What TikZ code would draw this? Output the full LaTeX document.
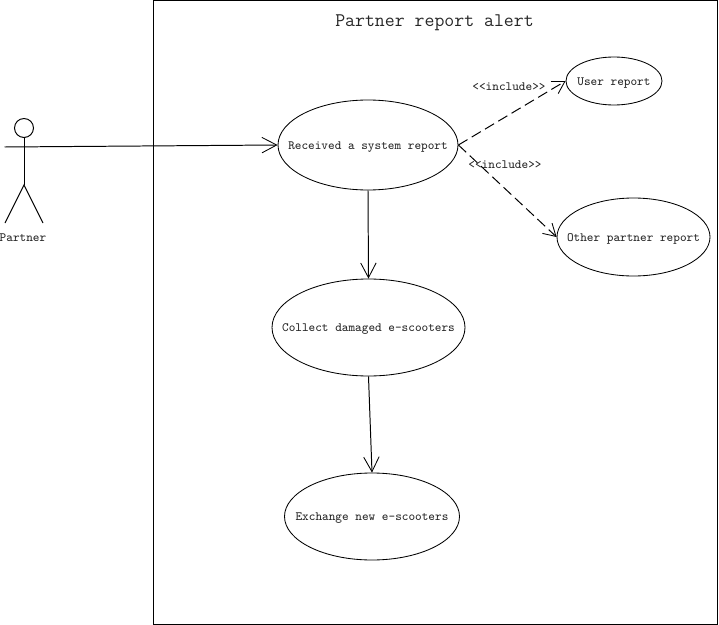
\documentclass[tikz,border=0pt]{standalone}
\usepackage{tikz}
\usetikzlibrary{shapes,positioning,arrows.meta}
\newcommand{\usecasetext}[1]{\makebox[0pt]{\raisebox{-3pt}[0pt][0pt]{#1}}}
\tikzset{
  usecase/.style={draw, ellipse, inner sep=0pt, line width=0.6pt},
  caption/.style={inner sep=0pt, text=black!85, font=\ttfamily\fontsize{9}{10}\selectfont},
  open/.style={-{Straight Barb[length=10.5pt, width=11pt, line width=0.6pt]}, line width=0.7pt},
  incl/.style={-{Straight Barb[length=8.5pt, width=10pt, line width=0.6pt]}, line width=0.7pt, dash pattern=on 7.5pt off 3.5pt}
}
\begin{document}
\begin{tikzpicture}[x=0.025cm, y=-0.025cm]
\useasboundingbox (0,0) rectangle (719,625);
% System frame
\node[draw, line width=0.7pt, minimum width=563.5*0.025cm, minimum height=623.5*0.025cm, inner sep=0pt] (frame) at (435.25,312.5) {};
\node[inner sep=0pt, text=black!85, font=\ttfamily\fontsize{13.7}{15}\selectfont] (title) at (434.5,23) {Partner report alert};

% Actor
\node[draw, circle, line width=0.7pt, minimum size=19*0.025cm, inner sep=0pt] (head) at (24,128) {};
\coordinate (hip) at (24,185);
\coordinate (armleft) at (4.5,147);
\coordinate (legleft) at (5,223);
\coordinate (legright) at (43,223);
\draw[line width=0.7pt] (head.south) -- (hip);
\draw[line width=0.7pt] (legleft) -- (hip) -- (legright);
\node[caption] (partner) at (23,238) {Partner};

% Use cases
\node[usecase, minimum width=180*0.025cm, minimum height=90*0.025cm, caption] (received) at (368,145) {\usecasetext{Received a system report}};
\node[usecase, minimum width=193*0.025cm, minimum height=97*0.025cm, caption] (collect) at (368.5,327.5) {\usecasetext{Collect damaged e-scooters}};
\node[usecase, minimum width=175*0.025cm, minimum height=87*0.025cm, caption] (exchange) at (372,516.5) {\usecasetext{Exchange new e-scooters}};
\node[usecase, minimum width=96*0.025cm, minimum height=48*0.025cm, caption] (user) at (614,81) {\usecasetext{User report}};
\node[usecase, minimum width=153*0.025cm, minimum height=78*0.025cm, caption] (other) at (633.5,237) {\usecasetext{Other partner report}};

% Flow
\draw[open] (armleft) -- (received.west);
\draw[open] (received.south) -- (collect.north);
\draw[open] (collect.south) -- (exchange.north);

% Includes
\draw[incl] (received.east) -- (user.west);
\draw[incl] (received.east) -- (other.west);
\node[caption] (inclA) at (509,86.5) {<{}<include>{}>};
\node[caption] (inclB) at (505,164.5) {<{}<include>{}>};
\end{tikzpicture}
\end{document}
